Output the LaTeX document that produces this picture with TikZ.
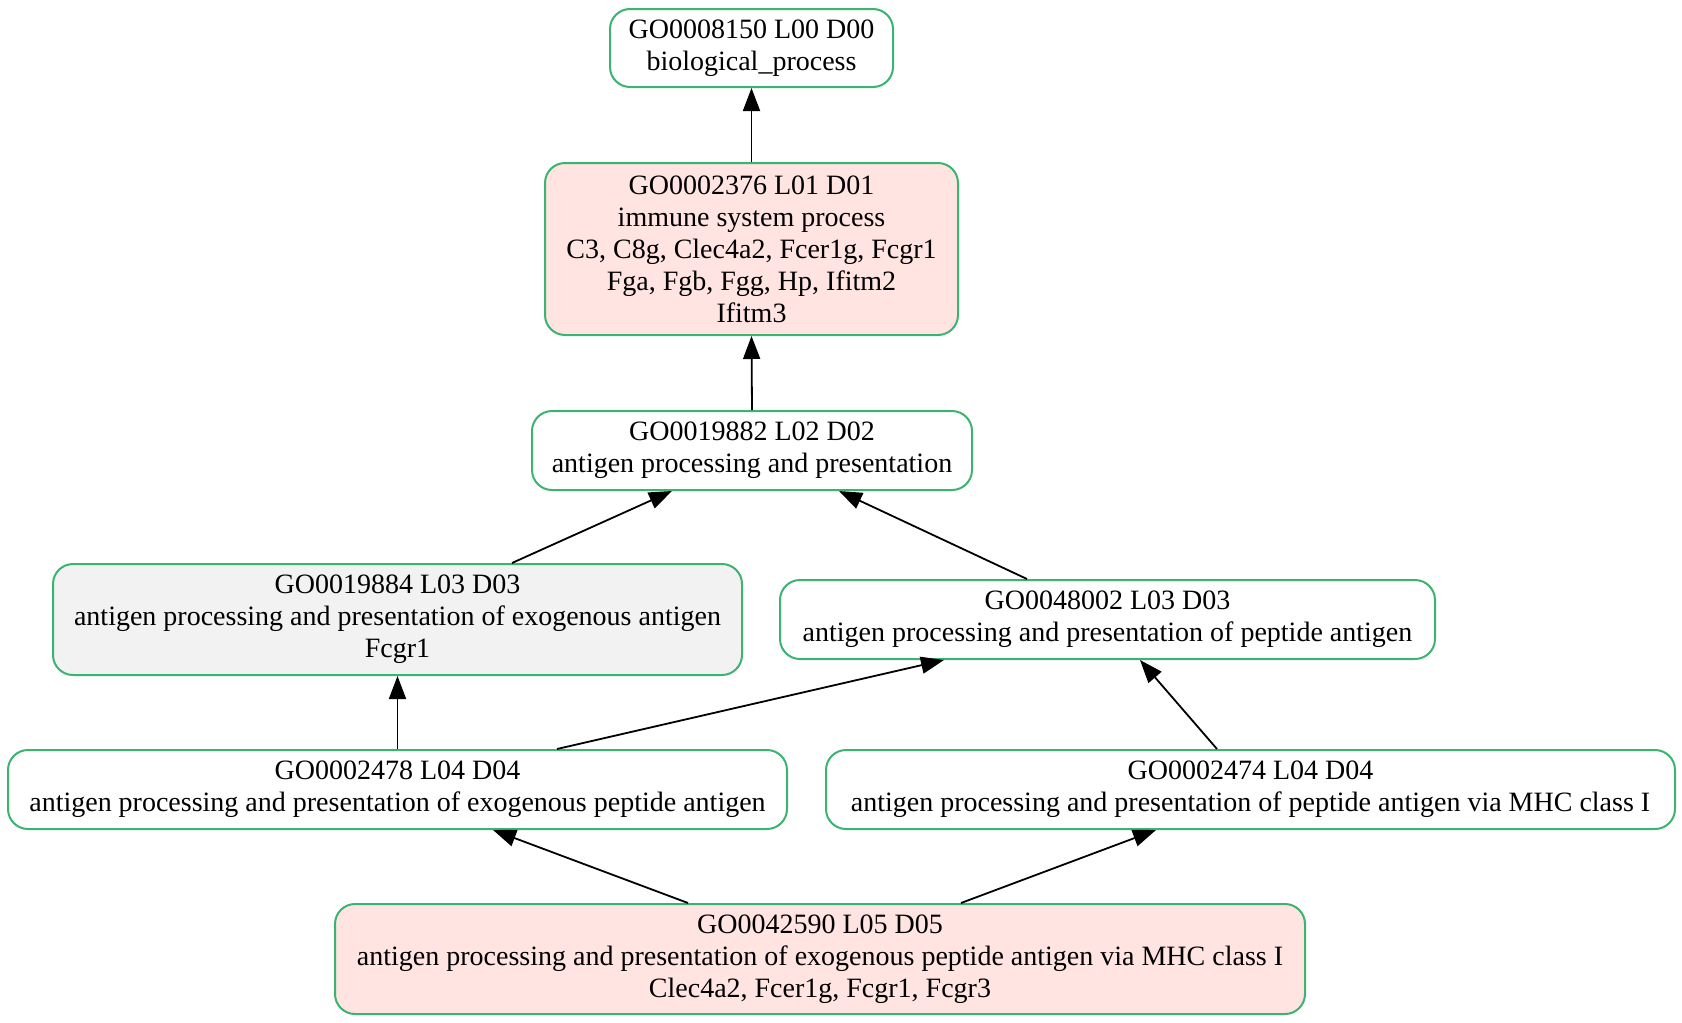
\documentclass[tikz,border=0pt]{standalone}
\usepackage{fontspec}
\setmainfont{Liberation Serif}
\usetikzlibrary{arrows.meta,calc}
\definecolor{gobord}{HTML}{3CB371}
\definecolor{gopink}{HTML}{FFE4E1}
\definecolor{gogray}{HTML}{F2F2F2}
\begin{document}
\begin{tikzpicture}[x=0.5pt,y=-0.5pt,
  gobox/.style={draw=gobord,line width=1pt,rounded corners=10pt,fill=white,
    align=center,inner sep=0pt,font=\fontsize{14pt}{16pt}\selectfont},
  pinkbox/.style={gobox,fill=gopink},
  graybox/.style={gobox,fill=gogray},
  edge/.style={draw=black,line width=0.9pt,-{Triangle[length=11.5pt,width=8.5pt]}}]
\useasboundingbox (0,0) rectangle (1682,1023);
\node[gobox,minimum width=141.5pt,minimum height=39pt] (n0) at (751.5,48)
  {GO0008150 L00 D00\\biological\_process};
\node[pinkbox,minimum width=206.5pt,minimum height=86pt] (n1) at (751.5,249)
  {GO0002376 L01 D01\\immune system process\\C3, C8g, Clec4a2, Fcer1g, Fcgr1\\Fga, Fgb, Fgg, Hp, Ifitm2\\Ifitm3};
\node[gobox,minimum width=220pt,minimum height=39.5pt] (n2) at (752,450.5)
  {GO0019882 L02 D02\\antigen processing and presentation};
\node[graybox,minimum width=344.5pt,minimum height=55.5pt] (n3) at (397.5,619.5)
  {GO0019884 L03 D03\\antigen processing and presentation of exogenous antigen\\Fcgr1};
\node[gobox,minimum width=327.5pt,minimum height=39.5pt] (n4) at (1107.5,619.5)
  {GO0048002 L03 D03\\antigen processing and presentation of peptide antigen};
\node[gobox,minimum width=389.5pt,minimum height=39.5pt] (n5) at (397.5,789.5)
  {GO0002478 L04 D04\\antigen processing and presentation of exogenous peptide antigen};
\node[gobox,minimum width=424.5pt,minimum height=39.5pt] (n6) at (1250.5,789.5)
  {GO0002474 L04 D04\\antigen processing and presentation of peptide antigen via MHC class I};
\node[pinkbox,minimum width=485pt,minimum height=55pt] (n7) at (820,959)
  {GO0042590 L05 D05\\antigen processing and presentation of exogenous peptide antigen via MHC class I\\Clec4a2, Fcer1g, Fcgr1, Fcgr3};
\draw[edge] (n1.north) -- (n0.south);
\draw[edge] (n2.north) -- (n1.south);
\draw[edge] ($(n3.north)+(114.5,0)$) -- ($(n2.south)+(-80,0)$);
\draw[edge] ($(n4.north)+(-80.5,0)$) -- ($(n2.south)+(87,0)$);
\draw[edge] (n5.north) -- (n3.south);
\draw[edge] ($(n5.north)+(159.5,0)$) -- ($(n4.south)+(-163.5,0)$);
\draw[edge] ($(n6.north)+(-33.5,0)$) -- ($(n4.south)+(32.5,0)$);
\draw[edge] ($(n7.north)+(-132,0)$) -- ($(n5.south)+(95.5,0)$);
\draw[edge] ($(n7.north)+(141,0)$) -- ($(n6.south)+(-94.5,0)$);
\end{tikzpicture}
\end{document}
